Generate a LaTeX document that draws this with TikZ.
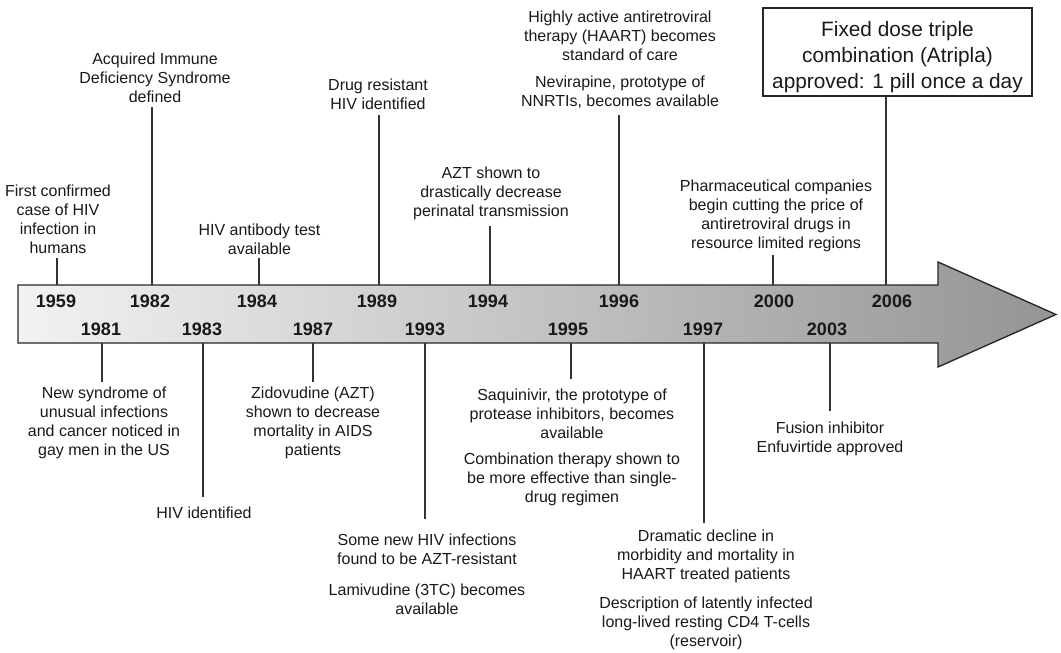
\documentclass[tikz,border=0pt]{standalone}
\usepackage{fontspec}
\setmainfont{Liberation Sans}
\begin{document}
\begin{tikzpicture}[x=0.75pt,y=-0.75pt,
  lbl/.style={font=\fontsize{12}{14.25}\selectfont, align=center, inner sep=0pt, text=black!90},
  yr/.style={font=\bfseries\fontsize{13.5}{16}\selectfont, inner sep=0pt, text=black!90},
  tickline/.style={draw=black!80, line width=1pt},
  bigtxt/.style={font=\fontsize{15.6}{19.5}\selectfont, align=center, inner sep=0pt, text=black!90}]
\useasboundingbox (0,0) rectangle (1061,653);

% timeline arrow
\path[draw=black!85, line width=1pt, left color=black!5, right color=black!42]
  (18,285) -- (938,285) -- (938,262) -- (1056,314.5) -- (938,367) -- (938,343) -- (18,343) -- cycle;

% years, top row
\node[yr] (y1959) at (56,301) {1959};
\node[yr] (y1982) at (150,301) {1982};
\node[yr] (y1984) at (257,301) {1984};
\node[yr] (y1989) at (377,301) {1989};
\node[yr] (y1994) at (488,301) {1994};
\node[yr] (y1996) at (619,301) {1996};
\node[yr] (y2000) at (774,301) {2000};
\node[yr] (y2006) at (892,301) {2006};
% years, bottom row
\node[yr] (y1981) at (101,329) {1981};
\node[yr] (y1983) at (202,329) {1983};
\node[yr] (y1987) at (313,329) {1987};
\node[yr] (y1993) at (425,329) {1993};
\node[yr] (y1995) at (568,329) {1995};
\node[yr] (y1997) at (703,329) {1997};
\node[yr] (y2003) at (827,329) {2003};

% tick coordinates (bar edge and free end)
\coordinate (b1959) at (57,285);  \coordinate (e1959) at (57,258);
\coordinate (b1982) at (152,285); \coordinate (e1982) at (152,107);
\coordinate (b1984) at (259,285); \coordinate (e1984) at (259,258);
\coordinate (b1989) at (379,285); \coordinate (e1989) at (379,115);
\coordinate (b1994) at (490,285); \coordinate (e1994) at (490,226);
\coordinate (b1996) at (619,285); \coordinate (e1996) at (619,115);
\coordinate (b2000) at (773,285); \coordinate (e2000) at (773,255);
\coordinate (b2006) at (886,285);
\coordinate (b1981) at (102,343); \coordinate (e1981) at (102,382);
\coordinate (b1983) at (203,343); \coordinate (e1983) at (203,497);
\coordinate (b1987) at (313,343); \coordinate (e1987) at (313,382);
\coordinate (b1993) at (425,343); \coordinate (e1993) at (425,519);
\coordinate (b1995) at (571,343); \coordinate (e1995) at (571,379);
\coordinate (b1997) at (704,343); \coordinate (e1997) at (704,523);
\coordinate (b2003) at (830,343); \coordinate (e2003) at (830,411);

% top labels
\node[lbl] (l1959) at (58,219.5) {First confirmed\\case of HIV\\infection in\\humans};
\node[lbl] (l1982) at (155,77.5) {Acquired Immune\\Deficiency Syndrome\\defined};
\node[lbl] (l1984) at (259.5,239) {HIV antibody test\\available};
\node[lbl] (l1989) at (378,94) {Drug resistant\\HIV identified};
\node[lbl] (l1994) at (491,193.5) {AZT shown to\\drastically decrease\\perinatal transmission};
\node[lbl] (l1996a) at (620,35.5) {Highly active antiretroviral\\therapy (HAART) becomes\\standard of care};
\node[lbl] (l1996b) at (620,92.5) {Nevirapine, prototype of\\NNRTIs, becomes available};
\node[lbl] (l2000) at (776,215.5) {Pharmaceutical companies\\begin cutting the price of\\antiretroviral drugs in\\resource limited regions};
\node[draw=black!85, line width=1pt, minimum width=201.75pt, minimum height=66pt, inner sep=0pt] (atripla) at (897.5,52) {};
\node[bigtxt] (atriplatxt) at (897.5,57) {Fixed dose triple\\combination (Atripla)\\approved: 1 pill once a day};

% bottom labels
\node[lbl] (l1981) at (104,423) {New syndrome of\\unusual infections\\and cancer noticed in\\gay men in the US};
\node[lbl] (l1983) at (204,513) {HIV identified};
\node[lbl] (l1987) at (313,423) {Zidovudine (AZT)\\shown to decrease\\mortality in AIDS\\patients};
\node[lbl] (l1993a) at (427,549) {Some new HIV infections\\found to be AZT-resistant};
\node[lbl] (l1993b) at (427,599) {Lamivudine (3TC) becomes\\available};
\node[lbl] (l1995a) at (572,414) {Saquinivir, the prototype of\\protease inhibitors, becomes\\available};
\node[lbl] (l1995b) at (572,479.5) {Combination therapy shown to\\be more effective than single-\\drug regimen};
\node[lbl] (l1997a) at (706,556) {Dramatic decline in\\morbidity and mortality in\\HAART treated patients};
\node[lbl] (l1997b) at (706,623.5) {Description of latently infected\\long-lived resting CD4 T-cells\\(reservoir)};
\node[lbl] (l2003) at (830,438.5) {Fusion inhibitor\\Enfuvirtide approved};

% ticks
\foreach \t in {1959,1982,1984,1989,1994,1996,2000,1981,1983,1987,1993,1995,1997,2003}
  \draw[tickline] (b\t) -- (e\t);
\draw[tickline] (b2006) -- (b2006 |- atripla.south);
\end{tikzpicture}
\end{document}
